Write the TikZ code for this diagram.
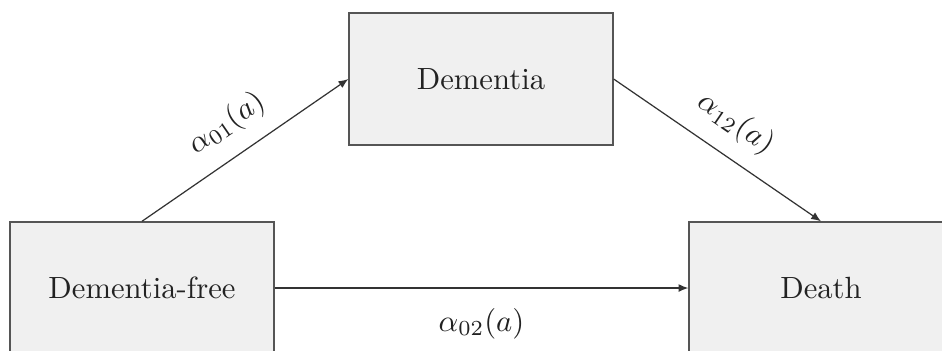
\documentclass[tikz,border=0pt]{standalone}
\usetikzlibrary{arrows.meta}
\definecolor{boxfill}{HTML}{F0F0F0}
\definecolor{boxline}{HTML}{555555}
\definecolor{txt}{HTML}{222222}
\begin{document}
\begin{tikzpicture}[x=0.326pt,y=-0.326pt,
  statebox/.style={draw=boxline,fill=boxfill,line width=0.5pt,minimum width=86pt,minimum height=43pt,inner sep=0pt,text=txt,font=\normalsize},
  trans/.style={draw=black!80,line width=0.4pt,-{Latex[length=3.2pt,width=2.6pt]}},
  lab/.style={text=txt,font=\normalsize}]
\useasboundingbox (0,0) rectangle (942,350);
\fill[white] (0,0) rectangle (942,350);
\clip (0,0) rectangle (942,350);
\node[statebox] (dem) at (481,79) {Dementia};
\node[statebox] (free) at (142,288) {Dementia-free};
\node[statebox] (death) at (821,288) {Death};
\draw[trans] (free.north) -- node[lab,above=2pt,sloped,pos=0.5] {$\alpha_{01}(a)$} (dem.west);
\draw[trans] (dem.east) -- node[lab,above=2pt,sloped,pos=0.5] {$\alpha_{12}(a)$} (death.north);
\draw[trans] (free.east) -- node[lab,below=3pt] {$\alpha_{02}(a)$} (death.west);
\end{tikzpicture}
\end{document}
